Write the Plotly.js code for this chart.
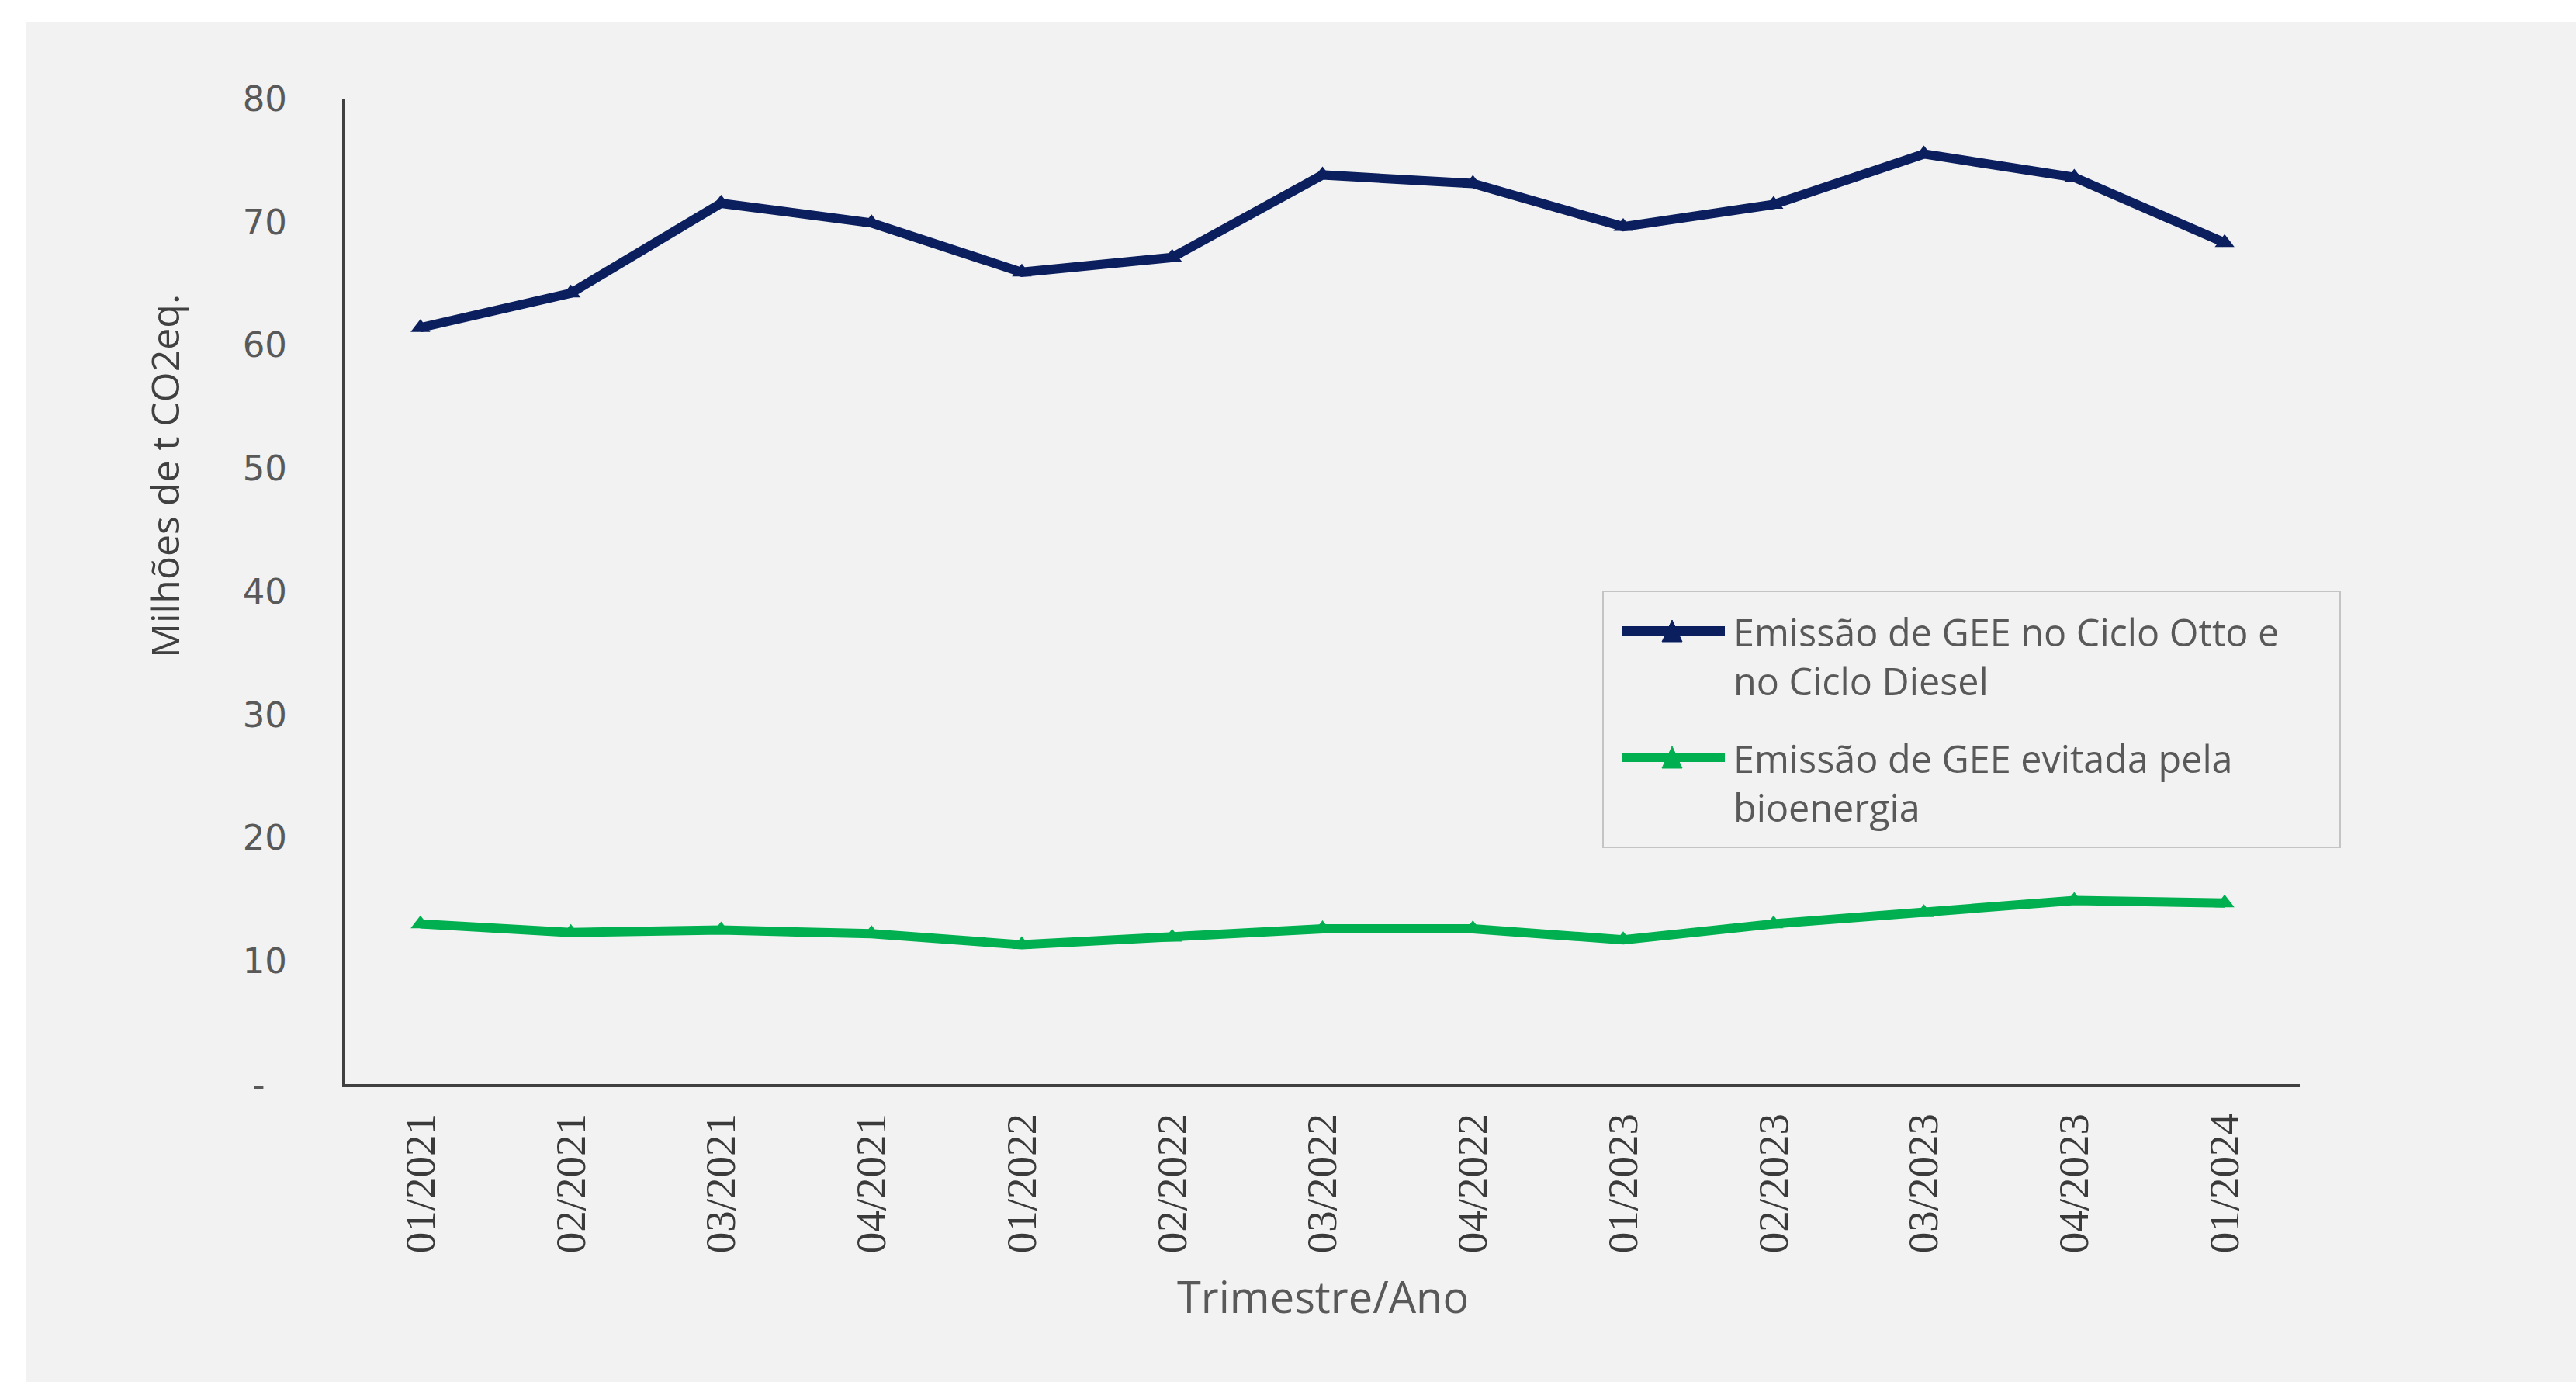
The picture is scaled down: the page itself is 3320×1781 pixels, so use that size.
<!DOCTYPE html>
<html>
<head>
<meta charset="utf-8">
<script src="https://cdn.plot.ly/plotly-3.0.1.min.js"></script>
<style>
html, body { margin: 0; padding: 0; background: #ffffff; width: 3320px; height: 1781px; overflow: hidden; }
#chart { position: absolute; left: 33px; top: 28px; width: 3287px; height: 1753px; }
</style>
</head>
<body>
<div id="chart"></div>
<script>
// ---- Data ----
var categories = ["01/2021","02/2021","03/2021","04/2021","01/2022","02/2022","03/2022","04/2022","01/2023","02/2023","03/2023","04/2023","01/2024"];
var emissaoCiclos = [61.4, 64.2, 71.5, 69.9, 65.9, 67.1, 73.8, 73.1, 69.6, 71.4, 75.5, 73.6, 68.3];
var emissaoEvitada = [13.0, 12.3, 12.5, 12.2, 11.3, 11.9, 12.6, 12.6, 11.7, 13.0, 13.9, 14.9, 14.7];
var seriesNames = ["Emissão de GEE no Ciclo Otto e<br>no Ciclo Diesel", "Emissão de GEE evitada pela<br>bioenergia"];
var yTickVals = [0, 10, 20, 30, 40, 50, 60, 70, 80];
var yTickText = ["-\u00a0\u00a0", "10", "20", "30", "40", "50", "60", "70", "80"];
var colors = ["#0B1F5E", "#00B050"];

// ---- Layout geometry (page pixels) ----
var PLOT_L = 445, PLOT_R = 2964, PLOT_T = 127, PLOT_B = 1397;
var DIV_L = 33, DIV_T = 28;
function px(X) { return (X - PLOT_L) / (PLOT_R - PLOT_L); }
function py(Y) { return (PLOT_B - Y) / (PLOT_B - PLOT_T); }

var traces = [
  { x: categories, y: emissaoCiclos, type: "scatter", mode: "lines+markers", name: seriesNames[0],
    line: { color: colors[0], width: 12 }, marker: { symbol: "triangle-up", size: 22, color: colors[0] }, showlegend: false },
  { x: categories, y: emissaoEvitada, type: "scatter", mode: "lines+markers", name: seriesNames[1],
    line: { color: colors[1], width: 12 }, marker: { symbol: "triangle-up", size: 22, color: colors[1] }, showlegend: false }
];

// custom legend
var legendRows = [813, 976];
var shapes = [
  { type: "rect", xref: "paper", yref: "paper", x0: px(2066), x1: px(3016), y0: py(1092), y1: py(762),
    line: { color: "#c4c4c4", width: 2 }, fillcolor: "rgba(0,0,0,0)" }
];
var annotations = [];
legendRows.forEach(function (Y, i) {
  shapes.push({ type: "line", xref: "paper", yref: "paper", x0: px(2090), x1: px(2223), y0: py(Y), y1: py(Y),
    line: { color: colors[i], width: 12 } });
  shapes.push({ type: "path", xref: "paper", yref: "paper",
    path: "M" + px(2142) + "," + py(Y + 14) + " L" + px(2168) + "," + py(Y + 14) + " L" + px(2155) + "," + py(Y - 14) + " Z",
    fillcolor: colors[i], line: { color: colors[i], width: 1 } });
  annotations.push({ xref: "paper", yref: "paper", x: px(2232), y: py(Y - 34), xanchor: "left", yanchor: "top",
    text: seriesNames[i], showarrow: false, align: "left",
    font: { family: "'Open Sans', Lato, sans-serif", size: 48.5, color: "#595959" } });
});

// axis titles as annotations
annotations.push({ xref: "paper", yref: "paper", x: px(212), y: py(614), textangle: -90,
  text: "Milhões de t CO2eq.", showarrow: false, xanchor: "center", yanchor: "middle",
  font: { family: "'Open Sans', Lato, sans-serif", size: 50, color: "#404040" } });
annotations.push({ xref: "paper", yref: "paper", x: px(1705), y: py(1670),
  text: "Trimestre/Ano", showarrow: false, xanchor: "center", yanchor: "middle",
  font: { family: "'Open Sans', Lato, sans-serif", size: 56, color: "#595959" } });

var layout = {
  width: 3287, height: 1753,
  paper_bgcolor: "#f2f2f2", plot_bgcolor: "rgba(0,0,0,0)",
  margin: { l: PLOT_L - DIV_L, r: 3320 - PLOT_R, t: PLOT_T - DIV_T, b: 1781 - PLOT_B, pad: 0 },
  showlegend: false,
  xaxis: {
    type: "category", range: [-0.5, categories.length - 0.5],
    showgrid: false, zeroline: false, showline: true, linecolor: "#404040", linewidth: 4,
    ticks: "", tickangle: -90, ticklabelstandoff: 12,
    tickfont: { family: "'Liberation Serif', serif", size: 55, color: "#3a3a3a" }
  },
  yaxis: {
    range: [0, 80], tickvals: yTickVals, ticktext: yTickText,
    showgrid: false, zeroline: false, showline: true, linecolor: "#404040", linewidth: 4,
    ticks: "", ticklabelstandoff: 62,
    tickfont: { family: "'DejaVu Sans', Verdana, sans-serif", size: 45, color: "#595959" }
  },
  shapes: shapes,
  annotations: annotations
};

Plotly.newPlot("chart", traces, layout, { staticPlot: true, displayModeBar: false });
</script>
</body>
</html>
